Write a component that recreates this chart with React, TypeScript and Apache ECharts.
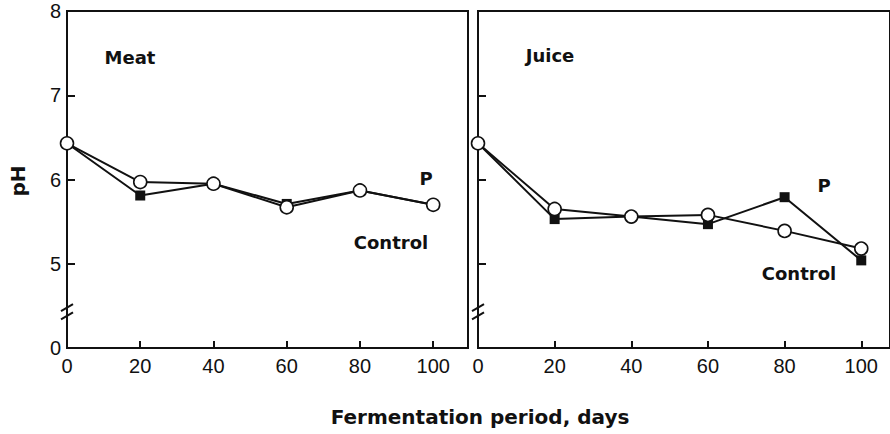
import React, { useEffect, useRef } from "react";
import * as echarts from "echarts";

const days = [0, 20, 40, 60, 80, 100];
const meatControl = [6.43, 5.97, 5.95, 5.67, 5.87, 5.7];
const meatP = [6.43, 5.81, 5.95, 5.71, 5.87, 5.7];
const juiceControl = [6.43, 5.65, 5.56, 5.58, 5.39, 5.18];
const juiceP = [6.43, 5.53, 5.56, 5.47, 5.79, 5.04];
const breakValues = [4.48, 4.38];

const FONT = "'Liberation Sans', Arial, Helvetica, sans-serif";
const BOLD_FONT = "'DejaVu Sans', 'Liberation Sans', Arial, sans-serif";
const INK = "#111";

const pairs = (ys: number[]) => days.map((d, i) => [d, ys[i]]);

export default function App() {
  const ref = useRef<HTMLDivElement>(null);
  useEffect(() => {
    document.body.style.margin = "0";
    const chart = echarts.init(ref.current!, null, { renderer: "svg" });
    const xAxisBase = (gridIndex: number, max: number) => ({
      gridIndex,
      type: "value",
      min: 0,
      max,
      interval: 20,
      axisLine: { show: true, onZero: false, lineStyle: { color: INK, width: 2 } },
      axisTick: { show: true, inside: true, length: 7, lineStyle: { color: INK, width: 2 } },
      axisLabel: { showMaxLabel: false, color: INK, fontSize: 20, fontFamily: FONT, margin: 8 },
      splitLine: { show: false },
    });
    const yAxisBase = (gridIndex: number, showLabel: boolean) => ({
      gridIndex,
      type: "value",
      min: 4,
      max: 8,
      interval: 1,
      axisLine: { show: true, onZero: false, lineStyle: { color: INK, width: 2 } },
      axisTick: { show: true, inside: true, length: 8, lineStyle: { color: INK, width: 2 } },
      axisLabel: {
        show: showLabel,
        color: INK,
        fontSize: 20,
        fontFamily: FONT,
        margin: 6,
        formatter: (v: number) => (v === 4 ? "0" : String(v)),
      },
      splitLine: { show: false },
    });
    const lineSeries = (name: string, xi: number, data: number[], square: boolean) => ({
      name,
      type: "line",
      xAxisIndex: xi,
      yAxisIndex: xi,
      data: pairs(data),
      symbol: square ? "rect" : "circle",
      symbolSize: square ? 10 : 13,
      z: square ? 2 : 3,
      lineStyle: { color: INK, width: 2 },
      itemStyle: square
        ? { color: INK, borderColor: INK, borderWidth: 0 }
        : { color: "#fff", borderColor: INK, borderWidth: 1.6 },
    });
    const txt = (text: string, x: number, y: number, size: number, extra: any = {}) => ({
      type: "text",
      x,
      y,
      ...extra,
      style: {
        text,
        fill: INK,
        font: `bold ${size}px ${BOLD_FONT}`,
        textAlign: "center",
        textVerticalAlign: "middle",
      },
    });
    chart.setOption({
      animation: false,
      backgroundColor: "#fff",
      grid: [
        { left: 67, top: 11, width: 401, height: 337, show: true, borderColor: INK, borderWidth: 2 },
        { left: 478, top: 11, width: 414, height: 337, show: true, borderColor: INK, borderWidth: 2 },
      ],
      xAxis: [xAxisBase(0, 109.5), xAxisBase(1, 107.5)],
      yAxis: [yAxisBase(0, true), yAxisBase(1, false)],
      series: [
        lineSeries("Meat P", 0, meatP, true),
        lineSeries("Meat Control", 0, meatControl, false),
        lineSeries("Juice P", 1, juiceP, true),
        lineSeries("Juice Control", 1, juiceControl, false),
      ],
    });
    const graphics: any[] = [
      txt("pH", 18, 181, 20, { rotation: Math.PI / 2 }),
      txt("Fermentation period, days", 480, 417, 20),
      txt("Meat", 130, 57, 18),
      txt("Juice", 550, 55, 18),
      txt("P", 426, 178, 18),
      txt("Control", 391, 242, 18),
      txt("P", 824, 185, 18),
      txt("Control", 799, 273, 18),
    ];
    [0, 1].forEach((gi) => {
      breakValues.forEach((bv) => {
        const p = chart.convertToPixel({ gridIndex: gi } as any, [0, bv]) as number[];
        graphics.push({
          type: "line",
          shape: { x1: p[0] - 6, y1: p[1] + 3.5, x2: p[0] + 6, y2: p[1] - 3.5 },
          style: { stroke: INK, lineWidth: 2 },
          z: 10,
        });
      });
    });
    chart.setOption({ graphic: graphics });
    return () => chart.dispose();
  }, []);
  return <div ref={ref} style={{ width: 890, height: 434 }} />;
}
